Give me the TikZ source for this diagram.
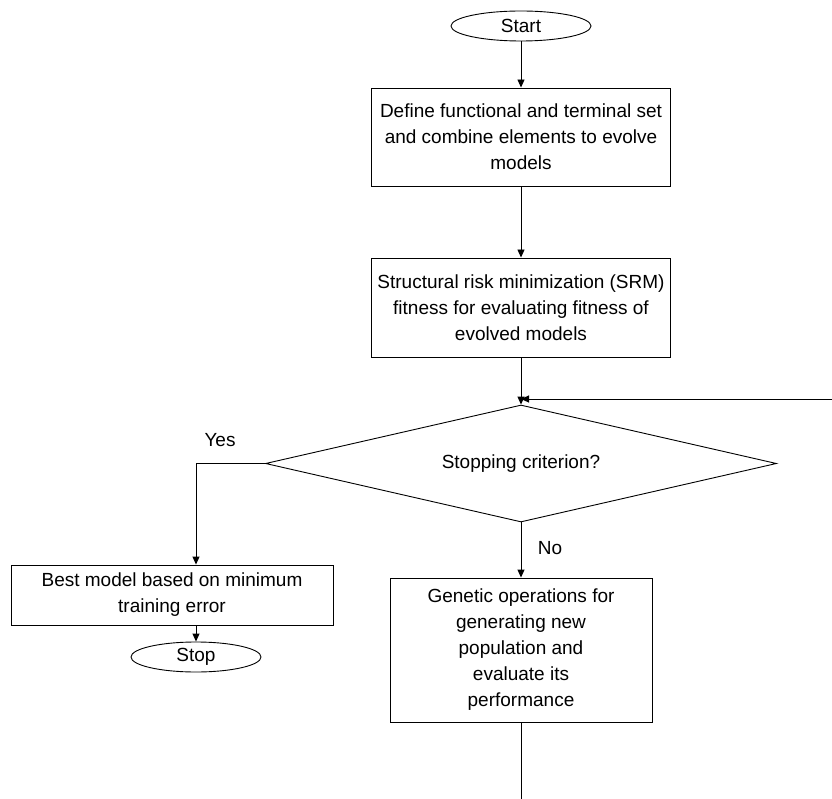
\documentclass[tikz,border=0pt]{standalone}
\usepackage{fontspec}
\setmainfont{Liberation Sans}
\usetikzlibrary{shapes.geometric,arrows.meta}

\begin{document}
\begin{tikzpicture}[x=1pt, y=-1pt, line width=0.9pt, >={Triangle[length=8pt,width=7pt]},
  every node/.style={font=\fontsize{19}{26}\selectfont},
  block/.style={rectangle, draw, align=center, inner sep=0pt},
  terminal/.style={ellipse, draw, inner sep=0pt},
  decision/.style={diamond, draw, aspect=4.4, inner sep=0pt, minimum width=511pt, minimum height=117pt}]
  \useasboundingbox (0,0) rectangle (832,799);
  \node[terminal, minimum width=140pt, minimum height=30pt] (start) at (521,26) {Start};
  \node[block, minimum width=299pt, minimum height=98pt] (define) at (521,137) {Define functional and terminal set\\and combine elements to evolve\\models};
  \node[block, minimum width=299pt, minimum height=99pt] (srm) at (521,307.5) {Structural risk minimization (SRM)\\fitness for evaluating fitness of\\evolved models};
  \node[decision] (check) at (521,463.5) {Stopping criterion?};
  \node[block, minimum width=322pt, minimum height=60pt] (best) at (172,595) {Best model based on minimum\\training error};
  \node[terminal, minimum width=130pt, minimum height=30pt] (stop) at (196,657) {Stop};
  \node[block, minimum width=262pt, minimum height=144pt] (genetic) at (521,650) {Genetic operations for\\generating new\\population and\\evaluate its\\performance};
  \node (yes) at (220,440) {Yes};
  \node (no) at (550,548) {No};
  \coordinate (loop) at (832,399);
  \coordinate (join) at (521,399);
  \coordinate (out) at (521,799);
  \draw[->] (start) -- (define);
  \draw[->] (define) -- (srm);
  \draw[->] (srm) -- (check);
  \draw[->] (loop) -- (join);
  \draw[->] (check.west) -| (stop |- best.north);
  \draw[->] (best.south -| stop) -- (stop);
  \draw[->] (check.south) -- (genetic.north);
  \draw (genetic.south) -- (out);
\end{tikzpicture}
\end{document}
